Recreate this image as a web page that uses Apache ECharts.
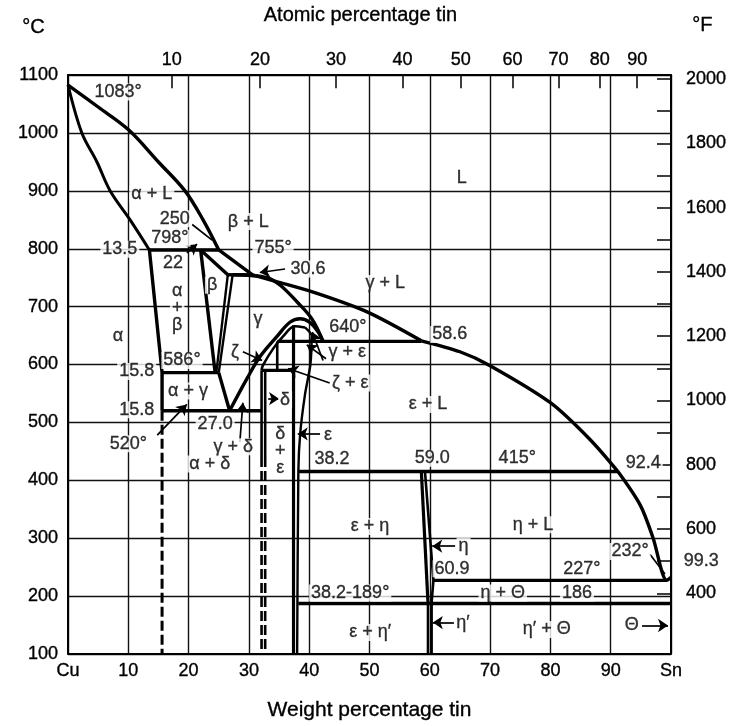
<!DOCTYPE html>
<html>
<head>
<meta charset="utf-8">
<script src="https://cdn.jsdelivr.net/npm/echarts@6/dist/echarts.min.js"></script>
<style>
  html, body { margin: 0; background: #fff; }
  #chart { width: 737px; height: 726px; }
</style>
</head>
<body>
<div id="chart"></div>
<script>
// axes
var weightTicks = [0, 10, 20, 30, 40, 50, 60, 70, 80, 90, 100];
var atomicTicks = [10, 20, 30, 40, 50, 60, 70, 80, 90];
var fahrenheitLabels = [400, 600, 800, 1000, 1200, 1400, 1600, 1800, 2000];
var fahrenheitTicks = [400, 500, 600, 700, 800, 900, 1000, 1100, 1200, 1300, 1400, 1500, 1600, 1700, 1800, 1900, 2000];

// phase boundaries: [wt% Sn, °C]
var liquidusAlpha = [[0, 1083], [5, 1045], [10, 1006], [15, 950], [19.4, 900], [22.4, 850], [25, 798]];
var liquidusBeta = [[25, 798], [30.6, 755]];
var liquidusGamma = [[30.6, 755], [35, 742], [41.3, 723], [49.6, 691], [58.6, 641]];
var liquidusEps = [[58.6, 641], [65, 622], [70, 598], [80, 534], [86.6, 470], [91.2, 415]];
var liquidusEta = [[91.2, 415], [94.9, 357], [97, 301], [99.3, 227], [100, 232]];
var solidusAlpha = [[0, 1083], [2.3, 1000], [4.8, 950], [7, 900], [10.3, 850], [13.5, 798]];
var solvusAlpha = [[13.5, 798], [15.6, 586], [15.6, 520]];
var solvusAlphaLow = [[15.6, 520], [15.6, 100]];
var iso798 = [[13.5, 798], [25, 798]];
var betaLeft = [[22, 798], [24.4, 586]];
var betaSolidus = [[22, 798], [26.5, 755]];
var iso755 = [[26.5, 755], [30.6, 755]];
var betaRight = [[26.5, 755], [24.6, 586]];
var gammaLeft = [[27.3, 755], [25, 586]];
var iso586 = [[15.6, 586], [25, 586]];
var gammaLow = [[25, 586], [26.8, 520]];
var iso520 = [[15.6, 520], [32.1, 520]];
var gammaDome = [[26.8, 520], [29.7, 576], [31.8, 613], [34.7, 649], [36.8, 673], [38.5, 679], [40.1, 673], [41.5, 656], [42.3, 640]];
var gammaSolidus = [[27.3, 755], [30, 754], [33, 750], [35.2, 737], [38, 708], [40.5, 678], [42.3, 640]];
var iso640 = [[34.7, 640], [58.6, 640]];
var zetaRight = [[34.7, 640], [34.7, 590]];
var epsDome = [[32.1, 590], [32.3, 598], [34, 627], [35.7, 649], [37.6, 666], [39.3, 664]];
var epsRight = [[39.3, 664], [40.4, 650], [40.2, 600], [39.3, 548], [38.5, 480], [38.2, 415], [38, 100]];
var epsLeft = [[37.4, 668], [37.4, 100]];
var iso590 = [[32.1, 590], [37.4, 590]];
var deltaA = [[32.1, 590], [32.1, 440]];
var deltaB = [[32.7, 590], [32.7, 440]];
var deltaALow = [[32.1, 440], [32.1, 100]];
var deltaBLow = [[32.7, 440], [32.7, 100]];
var iso415 = [[38.2, 415], [91.2, 415]];
var etaLeft = [[58.6, 415], [59.7, 189]];
var etaRight = [[59.2, 415], [60.6, 227], [60.3, 189]];
var etaPrimeA = [[59.7, 189], [59.7, 100]];
var etaPrimeB = [[60.3, 189], [60.3, 100]];
var iso227 = [[60.6, 227], [99.3, 227]];
var iso187 = [[38.2, 187], [100, 187]];

// text in the field: [text, wt% Sn, °C]
var regionLabels = [
  ['1083°', 8.3, 1071], ['α + L', 13.9, 894], ['L', 65.3, 923], ['250', 17.7, 852],
  ['798°', 16.9, 818], ['β + L', 29.9, 847], ['13.5', 8.6, 799], ['755°', 34.0, 801],
  ['22', 17.4, 776], ['30.6', 39.8, 765], ['γ + L', 52.6, 740], ['β', 23.9, 737],
  ['α\n+\nβ', 18.1, 698], ['α', 8.3, 649], ['γ', 31.5, 678], ['640°', 46.4, 664],
  ['58.6', 63.3, 652], ['586°', 18.9, 607], ['ζ', 27.7, 622], ['γ + ε', 46.3, 622],
  ['ζ + ε', 46.8, 568], ['15.8', 11.4, 588], ['α + γ', 19.9, 554], ['ε + L', 59.7, 531],
  ['δ', 36.0, 539], ['15.8', 11.4, 522], ['27.0', 24.4, 497], ['520°', 10.0, 463],
  ['γ + δ', 27.4, 458], ['α + δ', 23.5, 428], ['δ\n+\nε', 35.2, 450], ['ε', 43.1, 478],
  ['38.2', 43.8, 436], ['59.0', 60.4, 438], ['415°', 74.5, 438], ['92.4', 95.4, 429],
  ['ε + η', 50.1, 320], ['η + L', 77.1, 323], ['232°', 93.2, 277], ['99.3', 105, 260],
  ['η', 65.6, 286], ['60.9', 63.7, 247], ['227°', 85.2, 247], ['38.2-189°', 46.8, 205],
  ['η + Θ', 72.1, 205], ['186', 84.4, 205], ['ε + η′', 50.1, 137], ['η′', 65.5, 154],
  ['η′ + Θ', 79.4, 142], ['Θ', 93.5, 149]
];

// pointers: [from wt, from °C, to wt, to °C]
var arrows = [
  [36.0, 765, 31.8, 759], [14.8, 478, 19.7, 531], [28.5, 466, 29.0, 534],
  [29.0, 622, 32.2, 607], [42.3, 607, 40.5, 656], [42.8, 610, 39.6, 634],
  [43.4, 568, 36.5, 593], [33.2, 541, 35.0, 541], [41.8, 480, 38.1, 480],
  [64.2, 286, 60.4, 286], [64.0, 154, 60.5, 154], [95.2, 149, 99.5, 149],
  [102.8, 242, 100.3, 230], [19.7, 793, 21.4, 808]
];
var leaders = [
  [20.6, 842, 23.9, 815], [96.5, 272, 99.0, 238]
];

var FONT = '"Liberation Sans", Arial, Helvetica, sans-serif';
var INK = '#000';

function atomicToWeight(a) {
  return 100 * a * 118.71 / (a * 118.71 + (100 - a) * 63.546);
}
function weightToAtomic(w) {
  var s = w / 118.71, c = (100 - w) / 63.546;
  return Math.round(100 * s / (s + c));
}
var atomicPos = atomicTicks.map(atomicToWeight);

var boundaries = [
  [liquidusAlpha, 3.4, 'solid', 0.35], [liquidusBeta, 3.4, 'solid', 0], [liquidusGamma, 3.4, 'solid', 0.3],
  [liquidusEps, 3.4, 'solid', 0.3], [liquidusEta, 3.4, 'solid', 0.3], [solidusAlpha, 3, 'solid', 0.35],
  [solvusAlpha, 3.4, 'solid', 0], [solvusAlphaLow, 3, [10, 4], 0], [iso798, 3.4, 'solid', 0],
  [betaLeft, 3.4, 'solid', 0], [betaSolidus, 3.4, 'solid', 0], [iso755, 3.4, 'solid', 0],
  [betaRight, 2.4, 'solid', 0], [gammaLeft, 2.4, 'solid', 0], [iso586, 3.4, 'solid', 0],
  [gammaLow, 3.4, 'solid', 0], [iso520, 3.4, 'solid', 0], [gammaDome, 3.4, 'solid', 0.35],
  [gammaSolidus, 3.4, 'solid', 0.35], [iso640, 3.4, 'solid', 0], [zetaRight, 2.6, 'solid', 0],
  [epsDome, 2.6, 'solid', 0.35], [epsRight, 2.4, 'solid', 0.2], [epsLeft, 3.2, 'solid', 0],
  [iso590, 3.2, 'solid', 0], [deltaA, 2.6, 'solid', 0], [deltaB, 2.6, 'solid', 0],
  [deltaALow, 2.6, [10, 4], 0], [deltaBLow, 2.6, [10, 4], 0], [iso415, 3.4, 'solid', 0],
  [etaLeft, 3.2, 'solid', 0], [etaRight, 2.6, 'solid', 0], [etaPrimeA, 2.6, 'solid', 0],
  [etaPrimeB, 2.6, 'solid', 0], [iso227, 3.4, 'solid', 0], [iso187, 3.4, 'solid', 0]
];

var series = boundaries.map(function (b) {
  return {
    type: 'line',
    data: b[0],
    showSymbol: false,
    smooth: b[3],
    clip: false,
    silent: true,
    z: 3,
    lineStyle: { color: INK, width: b[1], type: b[2], cap: 'butt' }
  };
});

var textStyle = {
  color: INK, fontFamily: FONT, fontSize: 18,
  textBorderColor: INK, textBorderWidth: 0.35
};

series.push({
  type: 'scatter',
  clip: false,
  silent: true,
  z: 10,
  symbol: 'circle',
  symbolSize: 1,
  itemStyle: { color: 'rgba(0,0,0,0)' },
  label: Object.assign({
    show: true,
    position: 'inside',
    formatter: function (p) { return p.data.name; },
    lineHeight: 17,
    backgroundColor: '#fff',
    padding: [0, 2]
  }, textStyle),
  data: regionLabels.map(function (l) { return { name: l[0], value: [l[1], l[2]] }; })
});

// pointer arrows and leader lines hosted on an empty line series
series.push({
  type: 'line',
  clip: false,
  silent: true,
  z: 11,
  data: [],
  color: INK,
  itemStyle: { color: INK },
  lineStyle: { color: INK },
  markLine: {
    silent: true,
    symbol: ['none', 'arrow'],
    symbolSize: 10,
    label: { show: false },
    itemStyle: { color: INK, opacity: 1 },
    lineStyle: { color: INK, width: 1.7, type: 'solid' },
    data: arrows.map(function (a) { return [{ coord: [a[0], a[1]] }, { coord: [a[2], a[3]] }]; })
      .concat(leaders.map(function (a) {
        return [{ coord: [a[0], a[1]], symbol: 'none' }, { coord: [a[2], a[3]], symbol: 'none' }];
      }))
  }
});

var chart = echarts.init(document.getElementById('chart'));
chart.setOption({
  animation: false,
  backgroundColor: '#fff',
  grid: { left: 68, right: 66, top: 70, bottom: 64 },
  xAxis: [{
    type: 'value', min: 0, max: 100, interval: 10, position: 'bottom',
    name: 'Weight percentage tin', nameLocation: 'middle', nameGap: 46,
    nameTextStyle: Object.assign({}, textStyle, { fontSize: 21 }),
    axisLine: { show: true, onZero: false, lineStyle: { color: INK, width: 2 } },
    axisTick: { show: false },
    axisLabel: Object.assign({
      margin: 8,
      formatter: function (v) { return v === 0 ? 'Cu' : (v === 100 ? 'Sn' : String(v)); }
    }, textStyle),
    splitLine: { show: true, lineStyle: { color: '#111', width: 1.4 } }
  }, {
    type: 'value', min: 0, max: 100, position: 'top',
    name: 'Atomic percentage tin', nameLocation: 'middle', nameGap: 50,
    nameTextStyle: Object.assign({}, textStyle, { fontSize: 20, padding: [0, 18, 0, 0] }),
    axisLine: { show: true, onZero: false, lineStyle: { color: INK, width: 2 } },
    axisTick: { show: true, inside: true, length: 13, customValues: atomicPos, lineStyle: { color: INK, width: 1.5 } },
    axisLabel: Object.assign({
      margin: 6, customValues: atomicPos,
      formatter: function (v) { return String(weightToAtomic(v)); }
    }, textStyle),
    splitLine: { show: false }
  }],
  yAxis: [{
    type: 'value', min: 100, max: 1100, interval: 100, position: 'left',
    axisLine: { show: true, onZero: false, lineStyle: { color: INK, width: 2 } },
    axisTick: { show: false },
    axisLabel: Object.assign({ margin: 10, formatter: function (v) { return String(v); } }, textStyle),
    splitLine: { show: true, lineStyle: { color: '#111', width: 1.4 } }
  }, {
    type: 'value', min: 212, max: 2012, position: 'right',
    axisLine: { show: true, onZero: false, lineStyle: { color: INK, width: 2 } },
    axisTick: { show: true, inside: true, length: 14, customValues: fahrenheitTicks, lineStyle: { color: INK, width: 1.5 } },
    axisLabel: Object.assign({ margin: 15, customValues: fahrenheitLabels, formatter: function (v) { return String(v); } }, textStyle),
    splitLine: { show: false }
  }],
  graphic: [
    { type: 'text', left: 22, top: 17, style: { text: '°C', font: '20px ' + FONT, fill: INK, stroke: INK, lineWidth: 0.35 } },
    { type: 'text', left: 692, top: 15, style: { text: '°F', font: '20px ' + FONT, fill: INK, stroke: INK, lineWidth: 0.35 } }
  ],
  series: series
});
</script>
</body>
</html>
